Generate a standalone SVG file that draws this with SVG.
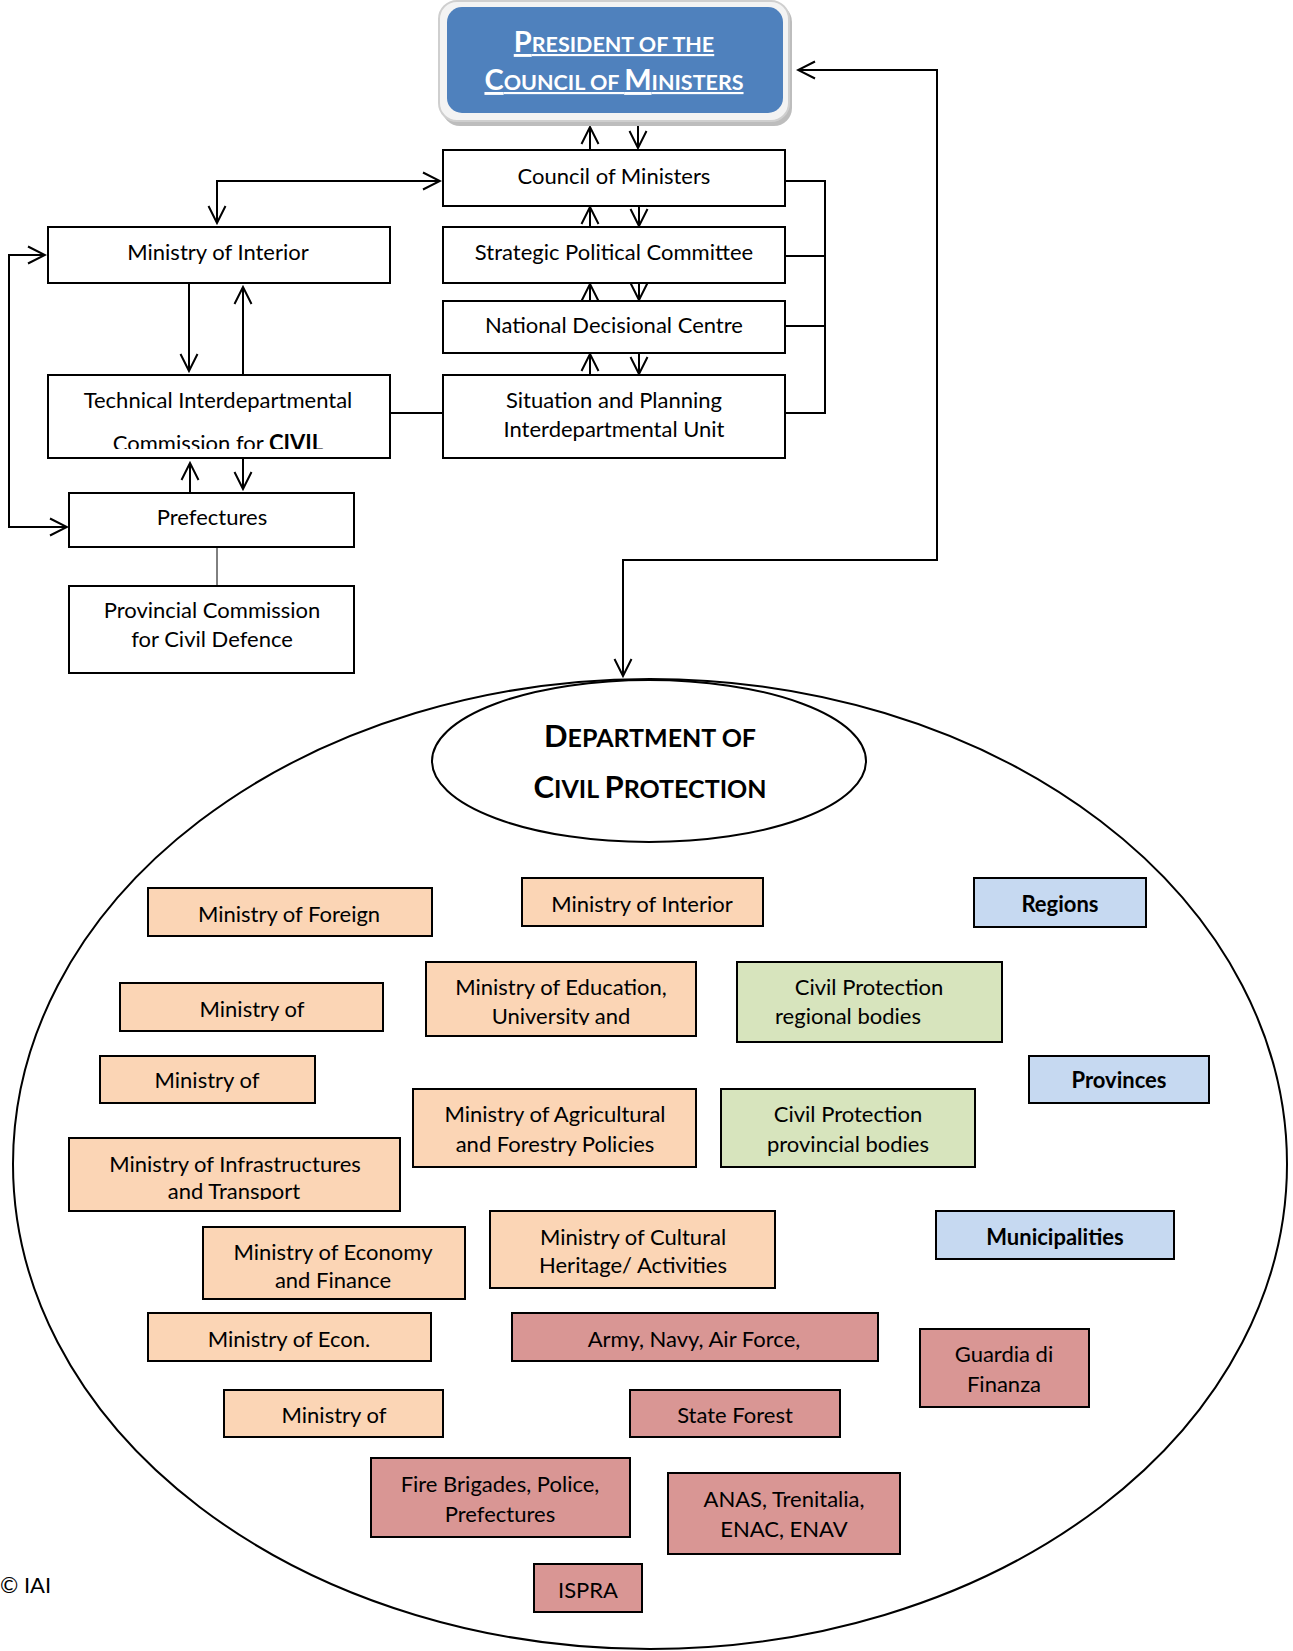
<svg xmlns="http://www.w3.org/2000/svg" width="1293" height="1651" viewBox="0 0 1293 1651">
  <style>
    .box { stroke: #000; stroke-width: 2; }
    .wh { fill: #fff; }
    .or { fill: #FBD5B5; }
    .gr { fill: #D7E4BD; }
    .bl { fill: #C6D9F1; }
    .rd { fill: #D99694; }
    text { font-family: Lato, "Liberation Sans", sans-serif; fill: #000; }
    .t { font-size: 22px; text-anchor: middle; }
    .b { font-weight: bold; }
    .sc { font-weight: bold; text-anchor: middle; font-size: 21.5px; }
    .cap { font-size: 29px; }
    .dsc { font-size: 25px; }
    .dcap { font-size: 31px; }
    .conn { stroke: #000; stroke-width: 2; fill: none; }
    .arr { marker-end: url(#ah); }
    .arr2 { marker-start: url(#ah); marker-end: url(#ah); }
  </style>
  <defs>
    <marker id="ah" viewBox="0 0 20 20" refX="18" refY="10" markerWidth="20" markerHeight="20" markerUnits="userSpaceOnUse" orient="auto-start-reverse">
      <path d="M1,1.5 L18,10 L1,18.5" fill="none" stroke="#000" stroke-width="2"/>
    </marker>
    <clipPath id="clip-tic"><rect x="48" y="375" width="342" height="74"/></clipPath>
    <clipPath id="clip-edu"><rect x="426" y="962" width="270" height="63"/></clipPath>
    <clipPath id="clip-inf"><rect x="69" y="1138" width="331" height="62"/></clipPath>
  </defs>

  <!-- outer boundary of the department -->
  <ellipse cx="650" cy="1164" rx="637" ry="485" fill="none" stroke="#000" stroke-width="2"/>

  <!-- connectors -->
  <g id="connectors">
    <line class="conn arr" x1="590" y1="150" x2="590" y2="127"/>
    <line class="conn arr" x1="638" y1="125" x2="638" y2="148"/>
    <line class="conn arr" x1="590" y1="227" x2="590" y2="207"/>
    <line class="conn arr" x1="639" y1="206" x2="639" y2="226"/>
    <line class="conn arr" x1="590" y1="301" x2="590" y2="284"/>
    <line class="conn arr" x1="639" y1="283" x2="639" y2="300"/>
    <line class="conn arr" x1="590" y1="375" x2="590" y2="354"/>
    <line class="conn arr" x1="639" y1="353" x2="639" y2="374"/>
    <polyline class="conn" points="785,181 825,181 825,413 785,413"/>
    <line class="conn" x1="785" y1="256" x2="825" y2="256"/>
    <line class="conn" x1="785" y1="326" x2="825" y2="326"/>
    <polyline class="conn arr2" points="217,223 217,181 440,181"/>
    <polyline class="conn arr2" points="45,255 9,255 9,527 67,527"/>
    <line class="conn arr" x1="189" y1="283" x2="189" y2="371"/>
    <line class="conn arr" x1="243" y1="375" x2="243" y2="287"/>
    <line class="conn" x1="390" y1="413" x2="443" y2="413"/>
    <line class="conn arr" x1="190" y1="493" x2="190" y2="463"/>
    <line class="conn arr" x1="243" y1="458" x2="243" y2="489"/>
    <line stroke="#000" stroke-width="1" x1="217" y1="547" x2="217" y2="586"/>
    <polyline class="conn arr2" points="798,70 937,70 937,560 623,560 623,676"/>
  </g>

  <!-- head of government -->
  <g id="president">
    <rect x="442" y="4" width="350" height="122" rx="18" fill="#bdbdbd"/>
    <rect x="439" y="1" width="350" height="120" rx="18" fill="#f3f3f3" stroke="#cfcfcf" stroke-width="2"/>
    <rect x="447" y="7" width="336" height="106" rx="15" fill="#4F81BD"/>
    <text class="sc" x="614" y="52" style="fill:#fff" text-decoration="underline"><tspan class="cap">P</tspan>RESIDENT OF THE</text>
    <text class="sc" x="614" y="90" style="fill:#fff" text-decoration="underline"><tspan class="cap">C</tspan>OUNCIL OF <tspan class="cap">M</tspan>INISTERS</text>
  </g>

  <g id="council">
    <rect class="box wh" x="443" y="150" width="342" height="56"/>
    <text class="t" x="614" y="184">Council of Ministers</text>
  </g>
  <g id="strategic">
    <rect class="box wh" x="443" y="227" width="342" height="56"/>
    <text class="t" x="614" y="260">Strategic Political Committee</text>
  </g>
  <g id="national">
    <rect class="box wh" x="443" y="301" width="342" height="52"/>
    <text class="t" x="614" y="333">National Decisional Centre</text>
  </g>
  <g id="situation">
    <rect class="box wh" x="443" y="375" width="342" height="83"/>
    <text class="t" x="614" y="408">Situation and Planning</text>
    <text class="t" x="614" y="437">Interdepartmental Unit</text>
  </g>
  <g id="ministry-interior">
    <rect class="box wh" x="48" y="227" width="342" height="56"/>
    <text class="t" x="218" y="260">Ministry of Interior</text>
  </g>
  <g id="technical-commission">
    <rect class="box wh" x="48" y="375" width="342" height="83"/>
    <text class="t" x="218" y="408">Technical Interdepartmental</text>
    <text class="t" x="218" y="451" clip-path="url(#clip-tic)">Commission for <tspan class="b">CIVIL</tspan></text>
  </g>
  <g id="prefectures">
    <rect class="box wh" x="69" y="493" width="285" height="54"/>
    <text class="t" x="212" y="525">Prefectures</text>
  </g>
  <g id="provincial-commission">
    <rect class="box wh" x="69" y="586" width="285" height="87"/>
    <text class="t" x="212" y="618">Provincial Commission</text>
    <text class="t" x="212" y="647">for Civil Defence</text>
  </g>

  <!-- department -->
  <g id="department">
    <ellipse cx="649" cy="761" rx="217" ry="81" fill="none" stroke="#000" stroke-width="2"/>
    <text class="sc dsc" x="650" y="747"><tspan class="dcap">D</tspan>EPARTMENT OF</text>
    <text class="sc dsc" x="650" y="798"><tspan class="dcap">C</tspan>IVIL <tspan class="dcap">P</tspan>ROTECTION</text>
  </g>

  <g id="min-foreign">
    <rect class="box or" x="148" y="888" width="284" height="48"/>
    <text class="t" x="289" y="922">Ministry of Foreign</text>
  </g>
  <g id="min-interior">
    <rect class="box or" x="522" y="878" width="241" height="48"/>
    <text class="t" x="642" y="912">Ministry of Interior</text>
  </g>
  <g id="regions">
    <rect class="box bl" x="974" y="878" width="172" height="49"/>
    <text class="t b" x="1060" y="912">Regions</text>
  </g>
  <g id="min-a">
    <rect class="box or" x="120" y="983" width="263" height="48"/>
    <text class="t" x="252" y="1017">Ministry of</text>
  </g>
  <g id="min-education">
    <rect class="box or" x="426" y="962" width="270" height="74"/>
    <text class="t" x="561" y="995">Ministry of Education,</text>
    <text class="t" x="561" y="1024" clip-path="url(#clip-edu)">University and</text>
  </g>
  <g id="cp-regional">
    <rect class="box gr" x="737" y="962" width="265" height="80"/>
    <text class="t" x="869" y="995">Civil Protection</text>
    <text class="t" x="848" y="1024">regional bodies</text>
  </g>
  <g id="min-b">
    <rect class="box or" x="100" y="1056" width="215" height="47"/>
    <text class="t" x="207" y="1088">Ministry of</text>
  </g>
  <g id="provinces">
    <rect class="box bl" x="1029" y="1056" width="180" height="47"/>
    <text class="t b" x="1119" y="1088">Provinces</text>
  </g>
  <g id="min-agriculture">
    <rect class="box or" x="413" y="1089" width="283" height="78"/>
    <text class="t" x="555" y="1122">Ministry of Agricultural</text>
    <text class="t" x="555" y="1152">and Forestry Policies</text>
  </g>
  <g id="cp-provincial">
    <rect class="box gr" x="721" y="1089" width="254" height="78"/>
    <text class="t" x="848" y="1122">Civil Protection</text>
    <text class="t" x="848" y="1152">provincial bodies</text>
  </g>
  <g id="min-infrastructures">
    <rect class="box or" x="69" y="1138" width="331" height="73"/>
    <text class="t" x="235" y="1172">Ministry of Infrastructures</text>
    <text class="t" x="234" y="1199" clip-path="url(#clip-inf)">and Transport</text>
  </g>
  <g id="min-economy">
    <rect class="box or" x="203" y="1227" width="262" height="72"/>
    <text class="t" x="333" y="1260">Ministry of Economy</text>
    <text class="t" x="333" y="1288">and Finance</text>
  </g>
  <g id="min-culture">
    <rect class="box or" x="490" y="1211" width="285" height="77"/>
    <text class="t" x="633" y="1245">Ministry of Cultural</text>
    <text class="t" x="633" y="1273">Heritage/ Activities</text>
  </g>
  <g id="municipalities">
    <rect class="box bl" x="936" y="1211" width="238" height="48"/>
    <text class="t b" x="1055" y="1245">Municipalities</text>
  </g>
  <g id="min-econ">
    <rect class="box or" x="148" y="1313" width="283" height="48"/>
    <text class="t" x="289" y="1347">Ministry of Econ.</text>
  </g>
  <g id="armed-forces">
    <rect class="box rd" x="512" y="1313" width="366" height="48"/>
    <text class="t" x="694" y="1347">Army, Navy, Air Force,</text>
  </g>
  <g id="guardia">
    <rect class="box rd" x="920" y="1329" width="169" height="78"/>
    <text class="t" x="1004" y="1362">Guardia di</text>
    <text class="t" x="1004" y="1392">Finanza</text>
  </g>
  <g id="min-c">
    <rect class="box or" x="224" y="1390" width="219" height="47"/>
    <text class="t" x="334" y="1423">Ministry of</text>
  </g>
  <g id="state-forest">
    <rect class="box rd" x="630" y="1390" width="210" height="47"/>
    <text class="t" x="735" y="1423">State Forest</text>
  </g>
  <g id="fire-brigades">
    <rect class="box rd" x="371" y="1458" width="259" height="79"/>
    <text class="t" x="500" y="1492">Fire Brigades, Police,</text>
    <text class="t" x="500" y="1522">Prefectures</text>
  </g>
  <g id="anas">
    <rect class="box rd" x="668" y="1473" width="232" height="81"/>
    <text class="t" x="784" y="1507">ANAS, Trenitalia,</text>
    <text class="t" x="784" y="1537">ENAC, ENAV</text>
  </g>
  <g id="ispra">
    <rect class="box rd" x="534" y="1564" width="108" height="48"/>
    <text class="t" x="588" y="1598">ISPRA</text>
  </g>

  <text x="0" y="1593" style="font-size:22px">© IAI</text>
</svg>
